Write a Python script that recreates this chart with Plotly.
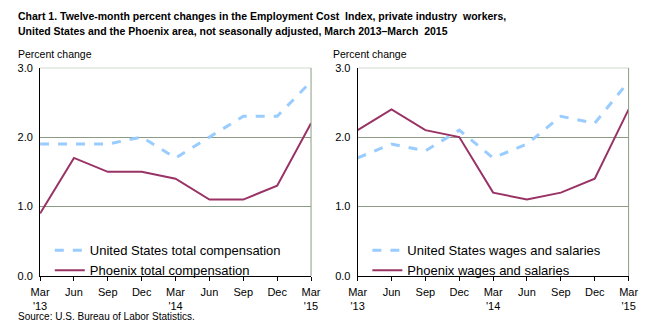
import plotly.graph_objects as go

tick_labels = ["Mar<br>'13", "Jun", "Sep", "Dec", "Mar<br>'14", "Jun", "Sep", "Dec", "Mar<br>'15"]
us_total_comp = [1.9, 1.9, 1.9, 2.0, 1.7, 2.0, 2.3, 2.3, 2.8]
phx_total_comp = [0.9, 1.7, 1.5, 1.5, 1.4, 1.1, 1.1, 1.3, 2.2]
us_wages = [1.7, 1.9, 1.8, 2.1, 1.7, 1.9, 2.3, 2.2, 2.8]
phx_wages = [2.1, 2.4, 2.1, 2.0, 1.2, 1.1, 1.2, 1.4, 2.4]
y_ticks = [0.0, 1.0, 2.0, 3.0]
title_lines = ["Chart 1. Twelve-month percent changes in the Employment Cost  Index, private industry  workers,",
               "United States and the Phoenix area, not seasonally adjusted, March 2013\u2013March  2015"]

W, H = 659, 333
US_COLOR = "#99ccff"
PHX_COLOR = "#993366"
GRID = "#8c9c84"
FONT = "Liberation Sans, Arial, sans-serif"

x = list(range(len(tick_labels)))

fig = go.Figure()
fig.add_trace(go.Scatter(x=x, y=us_total_comp, mode="lines", name="United States total compensation",
                         line=dict(color=US_COLOR, width=3, dash="dash"), xaxis="x", yaxis="y", legend="legend"))
fig.add_trace(go.Scatter(x=x, y=phx_total_comp, mode="lines", name="Phoenix total compensation",
                         line=dict(color=PHX_COLOR, width=2), xaxis="x", yaxis="y", legend="legend"))
fig.add_trace(go.Scatter(x=x, y=us_wages, mode="lines", name="United States wages and salaries",
                         line=dict(color=US_COLOR, width=3, dash="dash"), xaxis="x2", yaxis="y2", legend="legend2"))
fig.add_trace(go.Scatter(x=x, y=phx_wages, mode="lines", name="Phoenix wages and salaries",
                         line=dict(color=PHX_COLOR, width=2), xaxis="x2", yaxis="y2", legend="legend2"))

ydom = [1 - 280 / H, 1 - 64 / H]
d1 = [32 / W, 311 / W]
d2 = [359 / W, 638 / W]

xcommon = dict(range=[0, len(tick_labels) - 1], tickmode="array", tickvals=x, ticktext=tick_labels,
               showline=True, linecolor="black", linewidth=1, ticks="outside", ticklen=4,
               tickcolor="black", showgrid=False, zeroline=False, ticklabelstandoff=2,
               tickfont=dict(family=FONT, size=11, color="black"), fixedrange=True)
ycommon = dict(range=[0, 3], tickmode="array", tickvals=y_ticks, ticktext=[f"{v:.1f}" for v in y_ticks],
               showline=True, linecolor="black", linewidth=1, ticks="", showgrid=True,
               gridcolor=GRID, gridwidth=1, zeroline=False, ticklabelstandoff=4,
               tickfont=dict(family=FONT, size=11, color="black"), fixedrange=True)
# inner half of the crossing tick marks
xinner = dict(range=[0, len(tick_labels) - 1], tickmode="array", tickvals=x, ticks="inside", ticklen=4,
              tickcolor="black", showticklabels=False, showline=False, showgrid=False, zeroline=False)

fig.update_layout(
    width=W, height=H, margin=dict(l=0, r=0, t=0, b=0),
    paper_bgcolor="white", plot_bgcolor="white",
    font=dict(family=FONT, size=11, color="black"),
    xaxis=dict(domain=d1, anchor="y", **xcommon),
    yaxis=dict(domain=ydom, anchor="x", **ycommon),
    xaxis2=dict(domain=d2, anchor="y2", **xcommon),
    yaxis2=dict(domain=ydom, anchor="x2", **ycommon),
    xaxis3=dict(domain=d1, anchor="y", overlaying="x", **xinner),
    xaxis4=dict(domain=d2, anchor="y2", overlaying="x2", **xinner),
    legend=dict(x=42 / W, y=1 - 238 / H, xanchor="left", yanchor="top", bgcolor="rgba(0,0,0,0)",
                font=dict(family=FONT, size=13, color="black"), tracegroupgap=0, itemwidth=30),
    legend2=dict(x=369 / W, y=1 - 238 / H, xanchor="left", yanchor="top", bgcolor="rgba(0,0,0,0)",
                 font=dict(family=FONT, size=13, color="black"), tracegroupgap=0, itemwidth=30),
    showlegend=True,
)

# right-side borders
for xr, yr in (("x domain", "y"), ("x2 domain", "y2")):
    fig.add_shape(type="line", xref=xr, yref=yr, x0=1, x1=1, y0=0, y1=3, line=dict(color=GRID, width=1))
    fig.add_shape(type="line", xref=xr, yref=yr, x0=0, x1=1, y0=3, y1=3, line=dict(color=GRID, width=1))

ann = []
for i, line in enumerate(title_lines):
    ann.append(dict(text=f"<b>{line}</b>", x=7 / W, y=1 - (10 + 16 * i) / H, xref="paper", yref="paper",
                    xanchor="left", yanchor="middle", align="left", showarrow=False,
                    font=dict(family=FONT, size=10.5, color="black")))
ann.append(dict(text="Percent change", x=7 / W, y=1 - 50 / H, xref="paper", yref="paper",
                xanchor="left", yanchor="middle", showarrow=False, font=dict(family=FONT, size=10.5)))
ann.append(dict(text="Percent change", x=332 / W, y=1 - 50 / H, xref="paper", yref="paper",
                xanchor="left", yanchor="middle", showarrow=False, font=dict(family=FONT, size=10.5)))
ann.append(dict(text="Source: U.S. Bureau of Labor Statistics.", x=7 / W, y=1 - 322 / H, xref="paper",
                yref="paper", xanchor="left", yanchor="middle", showarrow=False, font=dict(family=FONT, size=10)))
fig.update_layout(annotations=ann)

fig.write_html("out.html")
